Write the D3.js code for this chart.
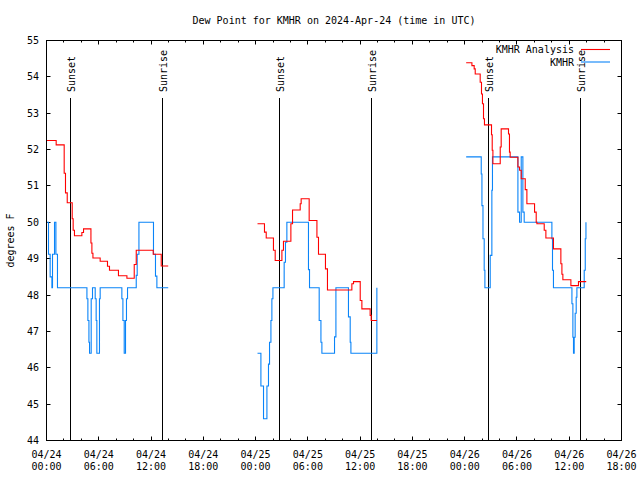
<!DOCTYPE html>
<html><head><meta charset="utf-8">
<script src="https://cdn.jsdelivr.net/npm/d3@7"></script>
<style>
body{margin:0;background:#fff}
text{font-family:"DejaVu Sans Mono","Liberation Mono",monospace;font-size:10px;fill:#000}
</style>
</head><body>
<svg id="chart" width="640" height="480"></svg>
<script>
// ---------- data ----------
const chartTitle = "Dew Point for KMHR on 2024-Apr-24 (time in UTC)";
const yAxisLabel = "degrees F";
const seriesNames = ["KMHR Analysis", "KMHR"];
const yTickValues = [44, 45, 46, 47, 48, 49, 50, 51, 52, 53, 54, 55];
const startTime = "2024-04-24T00:00:00Z";
const endTime = "2024-04-26T18:00:00Z";

// hours since 2024-04-24 00:00 UTC ; null separates data gaps
const analysisHours = [
  0, 1.11, 2.03, 2.18, 2.38, 2.95, 3.06, 3.21, 4.06, 4.25, 5.10, 5.21, 5.33, 6.16, 7.00, 7.23, 8.26, 9.23, 10.07, 10.30, 12.25, 13.17, 13.97,
  null,
  24.22, 25.02, 25.22, 26.05, 26.25, 27.02, 27.20, 28.05, 28.24, 29.12, 29.23, 30.15, 31.04, 31.22, 32.02, 32.25, 35.05, 35.24, 36.01, 36.20, 37.15, 37.27, 37.92,
  null,
  48.17, 48.83, 49.09, 49.21, 49.78, 49.93, 50.04, 50.16, 50.27, 51.08, 51.16, 51.24, 52.08, 52.19, 53.03, 53.14, 53.22, 54.11, 54.30, 54.49, 54.95, 55.14, 56.02, 56.21, 56.29, 57.13, 57.32, 58.19, 59.04, 59.16, 59.27, 60.19, 61.06, 61.95
];
const analysisDew = [
  52.25, 52.13, 51.35, 50.81, 50.54, 50.10, 49.78, 49.63, 49.72, 49.82, 49.43, 49.15, 49.02, 48.93, 48.79, 48.68, 48.53, 48.46, 48.84, 49.23, 49.12, 48.80, 48.80,
  null,
  49.96, 49.73, 49.57, 49.23, 48.95, 49.23, 49.48, 49.96, 50.34, 50.51, 50.65, 50.05, 49.59, 49.12, 48.72, 48.14, 48.31, 48.37, 47.85, 47.62, 47.44, 47.30, 47.30,
  null,
  54.39, 54.31, 54.22, 54.08, 53.85, 53.53, 53.26, 52.85, 52.68, 52.41, 51.98, 51.61, 52.07, 52.57, 52.43, 51.93, 51.79, 51.52, 51.43, 51.20, 50.90, 50.51, 50.28, 50.00, 49.96, 49.78, 49.57, 49.27, 48.86, 48.57, 48.42, 48.26, 48.37, 48.37
];

const kmhrHours = [
  0, 0.23, 0.42, 0.62, 0.69, 0.92, 1.08, 1.26, 4.64, 4.75, 4.87, 4.94, 5.13, 5.28, 5.59, 5.70, 5.78, 6.08, 6.16, 8.65, 8.77, 8.92, 9.07, 9.18, 9.30, 10.30, 10.41, 10.61, 12.28, 12.51, 12.67, 13.97,
  null,
  24.22, 24.61, 24.91, 25.30, 25.48, 25.60, 25.76, 25.87, 25.99, 27.28, 27.43, 27.59, 30.07, 30.19, 31.30, 31.50, 31.61, 33.06, 33.22, 34.66, 34.86, 34.94, 37.92,
  null,
  48.17, 49.90, 49.98, 50.10, 50.24, 50.32, 50.93, 51.12, 51.19, 54.11, 54.30, 54.49, 54.68, 54.83, 58.01, 58.08, 58.19, 60.31, 60.42, 60.49, 60.57, 60.68, 60.80, 60.88, 61.72, 61.84, 61.92
];
const kmhrDew = [
  50.0, 49.12, 48.5, 48.2, 49.12, 50.0, 49.12, 48.2, 47.9, 47.3, 46.7, 46.4, 47.9, 48.2, 47.9, 47.3, 46.4, 47.9, 48.2, 47.9, 47.3, 46.4, 47.3, 47.9, 48.2, 48.54, 49.12, 50.0, 49.12, 48.52, 48.2, 48.2,
  null,
  46.4, 45.5, 44.6, 45.5, 46.1, 46.7, 47.3, 47.9, 48.2, 48.9, 49.45, 50.0, 48.7, 48.2, 47.3, 46.7, 46.4, 46.85, 48.2, 47.4, 46.7, 46.4, 48.2,
  null,
  51.8, 51.33, 50.46, 49.55, 48.68, 48.2, 49.09, 50.88, 51.8, 50.28, 50.0, 51.8, 50.28, 50.0, 49.55, 48.68, 48.2, 47.76, 46.84, 46.4, 46.84, 47.5, 47.94, 48.2, 48.68, 49.55, 50.0
];

const sunsetHours = [2.76, 26.74, 50.78];
const sunriseHours = [13.32, 37.35, 61.30];

// ---------- chart ----------
(function () {
const svg = d3.select("#chart");
const pL = 46.5, pR = 621.5, pT = 40.5, pB = 440.5;
const t0 = new Date(startTime), t1 = new Date(endTime);
const hourToDate = h => new Date(t0.getTime() + h * 3600e3);

const x = d3.scaleUtc().domain([t0, t1]).range([pL, pR]);
const y = d3.scaleLinear().domain([44, 55]).range([pB, pT]);

svg.append("rect").attr("width", 640).attr("height", 480).attr("fill", "#fff");

// title
svg.append("text").attr("x", (pL + pR) / 2).attr("y", 24)
  .attr("text-anchor", "middle").text(chartTitle);

// y axis label
svg.append("text").attr("transform", `translate(14,${(pT + pB) / 2}) rotate(-90)`)
  .attr("text-anchor", "middle").text(yAxisLabel);

// x ticks
const minorTicks = x.ticks(d3.utcHour.every(2));
const majorTicks = x.ticks(d3.utcHour.every(6));
const tickG = svg.append("g").attr("stroke", "#000").attr("stroke-width", 1);
minorTicks.forEach(t => {
  const isMajor = t.getUTCHours() % 6 === 0;
  const len = isMajor ? 4 : 2;
  const xp = Math.round(x(t) - 0.5) + 0.5;
  tickG.append("line").attr("x1", xp).attr("x2", xp).attr("y1", pB).attr("y2", pB - len);
  tickG.append("line").attr("x1", xp).attr("x2", xp).attr("y1", pT).attr("y2", pT + len);
});
const fmtDate = d3.utcFormat("%m/%d"), fmtTime = d3.utcFormat("%H:%M");
majorTicks.forEach(t => {
  const xp = x(t);
  const tx = svg.append("text").attr("text-anchor", "middle");
  tx.append("tspan").attr("x", xp).attr("y", 458).text(fmtDate(t));
  tx.append("tspan").attr("x", xp).attr("y", 470).text(fmtTime(t));
});

// y ticks
yTickValues.forEach(v => {
  const yp = Math.round(y(v) - 0.5) + 0.5;
  tickG.append("line").attr("x1", pL).attr("x2", pL + 4).attr("y1", yp).attr("y2", yp);
  tickG.append("line").attr("x1", pR).attr("x2", pR - 4).attr("y1", yp).attr("y2", yp);
  svg.append("text").attr("x", 39).attr("y", yp + 3.5).attr("text-anchor", "end").text(v);
});

// sun lines
const sunG = svg.append("g");
function sunLine(h, label) {
  const xp = Math.round(x(hourToDate(h)) - 0.5) + 0.5;
  sunG.append("line").attr("x1", xp).attr("x2", xp).attr("y1", 98).attr("y2", pB)
    .attr("stroke", "#000").attr("stroke-width", 1);
  sunG.append("text").attr("transform", `translate(${xp + 4},92) rotate(-90)`)
    .attr("text-anchor", "start").text(label);
}
sunsetHours.forEach(h => sunLine(h, "Sunset"));
sunriseHours.forEach(h => sunLine(h, "Sunrise"));

// series
function toPoints(hours, vals) {
  return hours.map((h, i) => ({ t: h == null ? null : hourToDate(h), v: vals[i] }));
}
const line = d3.line()
  .defined(d => d.t !== null && d.v !== null)
  .x(d => x(d.t)).y(d => y(d.v))
  .curve(d3.curveStepAfter);

const colors = ["#ff0000", "#0a84f8"];
svg.append("path").datum(toPoints(kmhrHours, kmhrDew))
  .attr("d", line).attr("fill", "none").attr("stroke", colors[1]).attr("stroke-width", 1.1);
svg.append("path").datum(toPoints(analysisHours, analysisDew))
  .attr("d", line).attr("fill", "none").attr("stroke", colors[0]).attr("stroke-width", 1.1);

// legend
seriesNames.forEach((name, i) => {
  const ly = 49.5 + i * 12.5;
  svg.append("text").attr("x", 574).attr("y", ly + 3.5).attr("text-anchor", "end").text(name);
  svg.append("line").attr("x1", 581).attr("x2", 610).attr("y1", ly).attr("y2", ly)
    .attr("stroke", colors[i]).attr("stroke-width", 1.1);
});

// border
svg.append("rect").attr("x", pL).attr("y", pT).attr("width", pR - pL).attr("height", pB - pT)
  .attr("fill", "none").attr("stroke", "#000").attr("stroke-width", 1);
})();
</script>
</body></html>
